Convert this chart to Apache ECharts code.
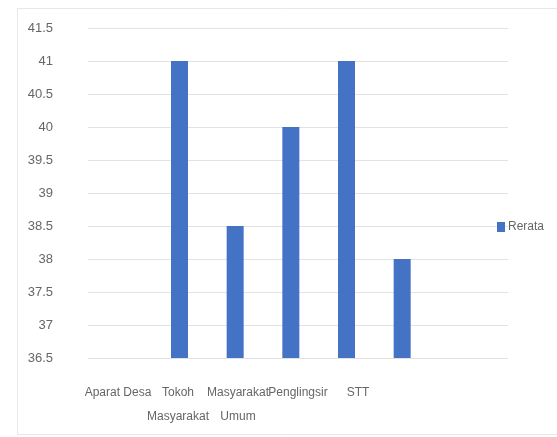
<!DOCTYPE html>
<html>
<head>
<meta charset="utf-8">
<script src="https://cdn.jsdelivr.net/npm/echarts@6/dist/echarts.min.js"></script>
<style>
  html, body { margin: 0; padding: 0; background: #ffffff; }
  #chart { width: 557px; height: 437px; }
</style>
</head>
<body>
<div id="chart"></div>
<script>
// Group names on the horizontal axis (last slot carries no name)
const categories = ['Aparat Desa', 'Tokoh\nMasyarakat', 'Masyarakat\nUmum', 'Penglingsir', 'STT', ''];
// Mean score per group
const rerata = [36.5, 41, 38.5, 40, 41, 38];
const seriesName = 'Rerata';
// Value axis range
const yMin = 36.5;
const yMax = 41.5;
const yStep = 0.5;

const FONT = '"Liberation Sans", Arial, sans-serif';
const TEXT = '#666666';

const chart = echarts.init(document.getElementById('chart'), null, { renderer: 'canvas' });

chart.setOption({
  backgroundColor: '#ffffff',
  animation: false,
  graphic: [{
    type: 'rect',
    shape: { x: 17.5, y: 8.5, width: 560, height: 426 },
    style: { fill: 'none', stroke: '#e8e8e8', lineWidth: 1 },
    silent: true
  }],
  legend: {
    data: [seriesName],
    left: 492,
    top: 216,
    orient: 'vertical',
    itemWidth: 8,
    itemHeight: 10,
    icon: 'rect',
    textStyle: { fontFamily: FONT, fontSize: 12, color: TEXT, padding: [0, 0, 0, -2] }
  },
  grid: [
    // bars
    { left: 96, right: 127, top: 28, bottom: 79 },
    // wider band carrying the gridlines and the group names
    { left: 88, right: 49, top: 28, bottom: 79 }
  ],
  xAxis: [
    {
      type: 'category',
      gridIndex: 0,
      data: categories,
      axisLine: { show: false },
      axisTick: { show: false },
      axisLabel: { show: false }
    },
    {
      type: 'category',
      gridIndex: 1,
      data: categories.concat(['']),
      axisLine: { show: false },
      axisTick: { show: false },
      axisLabel: {
        interval: 0,
        margin: 23,
        fontFamily: FONT,
        fontSize: 12,
        lineHeight: 24,
        color: TEXT
      }
    }
  ],
  yAxis: [
    {
      type: 'value',
      gridIndex: 0,
      min: yMin,
      max: yMax,
      interval: yStep,
      axisLine: { show: false },
      axisTick: { show: false },
      splitLine: { show: false },
      axisLabel: { show: false }
    },
    {
      type: 'value',
      gridIndex: 1,
      min: yMin,
      max: yMax,
      interval: yStep,
      axisLine: { show: false },
      axisTick: { show: false },
      splitLine: { show: true, lineStyle: { color: '#e2e2e2', width: 1 } },
      axisLabel: {
        margin: 35,
        fontFamily: FONT,
        fontSize: 13,
        color: TEXT,
        padding: [12, 0, 0, 0]
      }
    }
  ],
  series: [{
    name: seriesName,
    type: 'bar',
    xAxisIndex: 0,
    yAxisIndex: 0,
    data: rerata,
    barWidth: 17,
    itemStyle: { color: '#4472C4' }
  }]
});
</script>
</body>
</html>
